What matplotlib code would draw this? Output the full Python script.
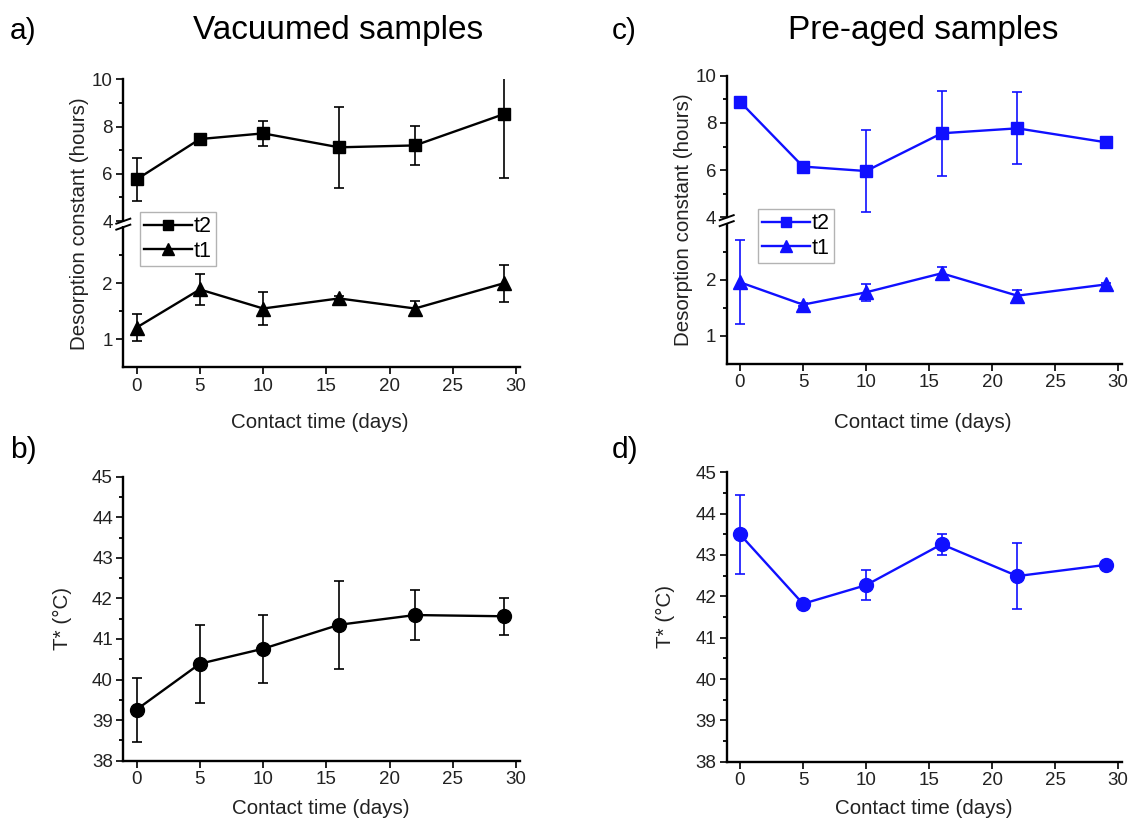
import matplotlib
matplotlib.use("Agg")
import matplotlib.pyplot as plt
from matplotlib.ticker import MultipleLocator, FixedLocator
from matplotlib.lines import Line2D

plt.rcParams['font.family'] = ['Liberation Sans', 'DejaVu Sans']

# ---------------- data ----------------
days = [0, 5, 10, 16, 22, 29]

vac_t2 = [5.76, 7.47, 7.71, 7.12, 7.20, 8.52]
vac_t2_err = [0.92, 0.10, 0.53, 1.71, 0.84, 2.71]
vac_t1 = [1.21, 1.89, 1.55, 1.73, 1.55, 2.00]
vac_t1_err = [0.24, 0.27, 0.30, 0.05, 0.13, 0.33]
vac_T = [39.26, 40.39, 40.76, 41.35, 41.59, 41.56]
vac_T_err = [0.79, 0.96, 0.84, 1.08, 0.62, 0.45]

pre_t2 = [8.90, 6.15, 5.96, 7.56, 7.77, 7.18]
pre_t2_err = [0.05, 0.05, 1.75, 1.80, 1.52, 0.05]
pre_t1 = [1.96, 1.56, 1.78, 2.12, 1.72, 1.92]
pre_t1_err = [0.75, 0.03, 0.15, 0.12, 0.10, 0.03]
pre_T = [43.50, 41.82, 42.27, 43.26, 42.49, 42.76]
pre_T_err = [0.96, 0.03, 0.36, 0.25, 0.80, 0.03]

x_ticks = [0, 5, 10, 15, 20, 25, 30]
x_label = "Contact time (days)"
y_label_des = "Desorption constant (hours)"
y_label_T = "T* (°C)"

W, H = 1131, 823
fig = plt.figure(figsize=(W / 100, H / 100), dpi=100)


def fx(px):
    return px / W


def fy(py):
    return 1 - py / H


TICK_FS = 13.5
LABEL_FS = 14.8
LW = 1.7
ELW = 1.2
CAP = 3.5
MS = 9


def style(ax, bottom=True):
    for s in ['top', 'right']:
        ax.spines[s].set_visible(False)
    ax.spines['left'].set_linewidth(1.7)
    ax.spines['bottom'].set_linewidth(1.7)
    ax.tick_params(axis='both', which='major', direction='out', length=5,
                   width=1.4, labelsize=TICK_FS, pad=2.5, colors='#222222',
                   labelcolor='#222222')
    ax.tick_params(axis='both', which='minor', direction='out', length=3,
                   width=1.3)
    ax.set_xlim(-1.05, 30.3)
    ax.xaxis.set_major_locator(FixedLocator(x_ticks))
    if not bottom:
        ax.spines['bottom'].set_visible(False)
        ax.tick_params(axis='x', which='both', bottom=False, labelbottom=False)


def series(ax, y, err, marker, color, ms=MS):
    ax.errorbar(days, y, yerr=err, fmt='none', ecolor=color, elinewidth=ELW,
                capsize=CAP, capthick=ELW, zorder=2)
    line, = ax.plot(days, y, '-', marker=marker, color=color, lw=LW, ms=ms,
                    zorder=3)
    return line


def broken_panel(left_px, right_px, top_px, y4_px, ylow_top_px, bot_px,
                 t2, t2e, t1, t1e, color, leg_xy):
    left = fx(left_px)
    width = (right_px - left_px) / W
    ax_top = fig.add_axes([left, fy(y4_px), width, (y4_px - top_px) / H])
    ax_low = fig.add_axes([left, fy(bot_px), width, (bot_px - ylow_top_px) / H])
    style(ax_top, bottom=False)
    style(ax_low, bottom=True)
    ax_top.set_ylim(4, 10)
    ax_top.yaxis.set_major_locator(MultipleLocator(2))
    ax_top.yaxis.set_minor_locator(MultipleLocator(1))
    ax_low.set_ylim(0.5, 3.0)
    ax_low.yaxis.set_major_locator(FixedLocator([1, 2]))
    ax_low.yaxis.set_minor_locator(FixedLocator([1.5, 2.5]))
    h2 = series(ax_top, t2, t2e, 's', color)
    h1 = series(ax_low, t1, t1e, '^', color, ms=MS + 1)
    # break marks on the y axis
    ymid = (y4_px + ylow_top_px) / 2
    fig.add_artist(Line2D([fx(left_px - 2), fx(left_px + 2)],
                          [fy(ymid), fy(ymid)], transform=fig.transFigure,
                          color='white', lw=3))
    for dy in (-3.0, 3.0):
        yc = ymid + dy
        fig.add_artist(Line2D([fx(left_px - 7), fx(left_px + 7)],
                              [fy(yc + 2.5), fy(yc - 2.5)],
                              transform=fig.transFigure, color='black',
                              lw=1.4))
    leg = fig.legend([h2, h1], ['t2', 't1'], loc='upper left',
                     bbox_to_anchor=(fx(leg_xy[0]), fy(leg_xy[1])),
                     bbox_transform=fig.transFigure, borderaxespad=0,
                     fontsize=15.5, frameon=True, fancybox=False,
                     handlelength=2.2, handletextpad=0.1, borderpad=0.2,
                     labelspacing=0.15, markerscale=0.85)
    leg.get_frame().set_edgecolor('#a0a0a0')
    leg.get_frame().set_linewidth(1.0)
    # labels
    fig.text(fx(left_px - 43.5), fy((top_px + bot_px) / 2), y_label_des,
             rotation=90, ha='center', va='center', fontsize=LABEL_FS,
             color='#222222')
    fig.text(fx((left_px + right_px) / 2 - 2), fy(422), x_label,
             ha='center', va='center', fontsize=LABEL_FS, color='#222222')
    return ax_top, ax_low


def t_panel(left_px, right_px, top_px, bot_px, T, Te, color):
    ax = fig.add_axes([fx(left_px), fy(bot_px), (right_px - left_px) / W,
                       (bot_px - top_px) / H])
    style(ax)
    ax.set_ylim(38, 45)
    ax.yaxis.set_major_locator(MultipleLocator(1))
    ax.yaxis.set_minor_locator(MultipleLocator(0.5))
    series(ax, T, Te, 'o', color, ms=MS + 1)
    fig.text(fx(left_px - 61), fy((top_px + bot_px) / 2), y_label_T,
             rotation=90, ha='center', va='center', fontsize=LABEL_FS,
             color='#222222')
    fig.text(fx((left_px + right_px) / 2 - 1), fy(809), x_label,
             ha='center', va='center', fontsize=LABEL_FS, color='#222222')
    return ax


BLUE = '#1010ff'

broken_panel(123.3, 520, 79.3, 221, 227.3, 367.3,
             vac_t2, vac_t2_err, vac_t1, vac_t1_err, 'black', (140, 212))
broken_panel(726.7, 1122, 75.7, 217.3, 224, 364,
             pre_t2, pre_t2_err, pre_t1, pre_t1_err, BLUE, (758, 209))
t_panel(123.3, 520, 476.7, 760.7, vac_T, vac_T_err, 'black')
t_panel(726.7, 1122, 472.3, 761.7, pre_T, pre_T_err, BLUE)

# panel letters and titles
TITLE_FS = 24
for txt, x, y in [("a)", 10, 31), ("b)", 10, 450), ("c)", 612, 31),
                  ("d)", 612, 450)]:
    fig.text(fx(x), fy(y), txt, ha='left', va='center', fontsize=21.5)
fig.text(fx(338), fy(31), "Vacuumed samples", ha='center', va='center',
         fontsize=TITLE_FS)
fig.text(fx(923), fy(31), "Pre-aged samples", ha='center', va='center',
         fontsize=TITLE_FS)

fig.savefig("out.png", dpi=100)
